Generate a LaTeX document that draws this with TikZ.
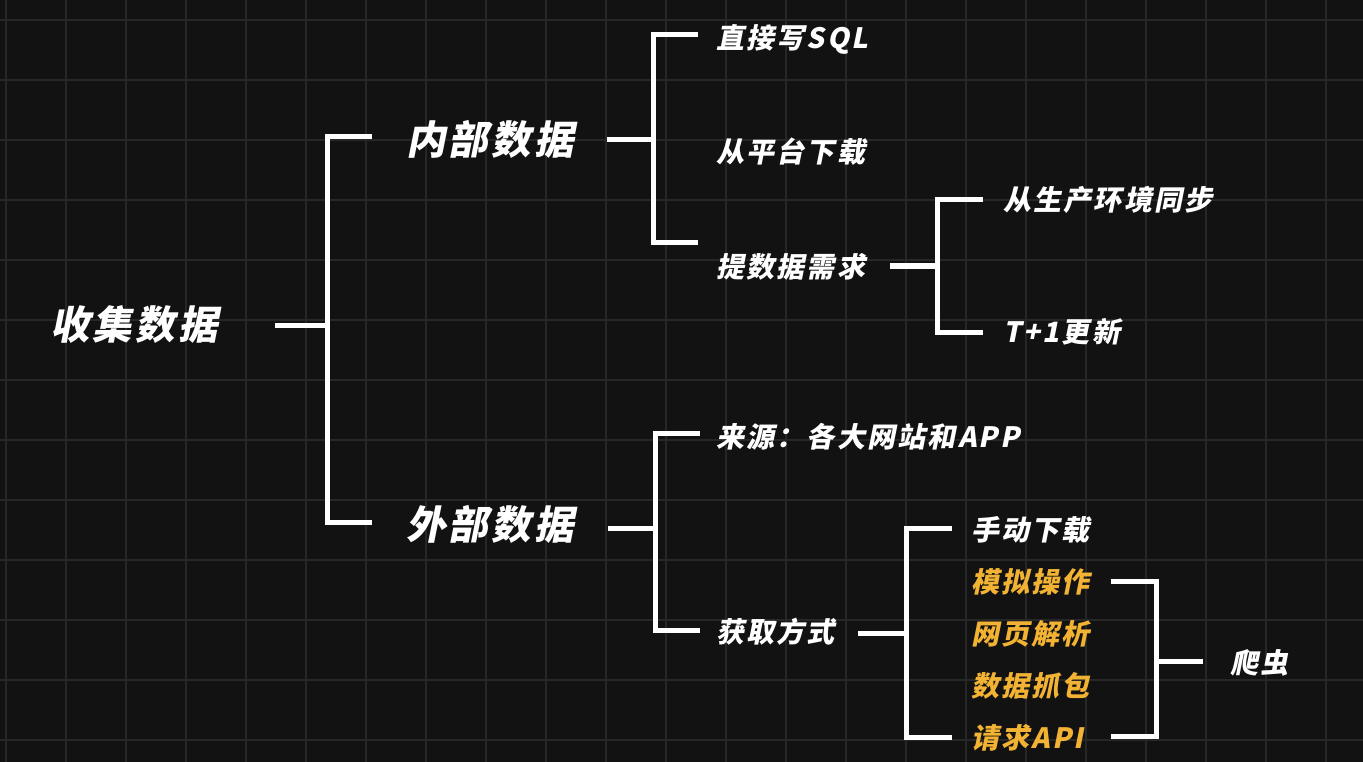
\documentclass[tikz,border=0pt]{standalone}
\usepackage{fontspec}
\newfontfamily\cjk{Noto Sans CJK SC}[UprightFont=* Black, FakeSlant=0.2, LetterSpace=8]
\definecolor{bgdark}{HTML}{121212}
\definecolor{gridgray}{HTML}{272727}
\definecolor{hiorange}{HTML}{F2B233}
\tikzset{
  big/.style={text=white, inner sep=0, anchor=west, text height=32pt, text depth=3pt,
    font=\cjk\fontsize{39.5}{42}\selectfont},
  small/.style={text=white, inner sep=0, anchor=west, text height=23pt, text depth=2pt,
    font=\cjk\fontsize{28}{30}\selectfont},
  br/.style={draw=white, line width=5pt, line join=miter}
}
\begin{document}
\begin{tikzpicture}[x=1pt, y=-1pt]
  \fill[bgdark] (0,0) rectangle (1363,762);
  \useasboundingbox (0,0) rectangle (1363,762);
  % grid
  \foreach \gx in {6,66,...,1326} \draw[gridgray, line width=2pt] (\gx,0) -- (\gx,762);
  \foreach \gy in {20,80,...,740} \draw[gridgray, line width=2pt] (0,\gy) -- (1363,\gy);

  % texts
  \node[big] (collect) at (50,325) {收集数据};
  \node[big] (inner) at (406,140) {内部数据};
  \node[big] (outer) at (406,525) {外部数据};
  \node[small] (sql) at (716,38) {直接写SQL};
  \node[small] (platform) at (716,152) {从平台下载};
  \node[small] (request) at (716,267) {提数据需求};
  \node[small] (prodsync) at (1003,200) {从生产环境同步};
  \node[small] (tplus) at (1003,332) {T+1更新};
  \node[small] (source) at (716,437) {来源：各大网站和APP};
  \node[small] (method) at (716,632) {获取方式};
  \node[small] (manual) at (971,530) {手动下载};
  \node[small, text=hiorange] (simulate) at (971,582) {模拟操作};
  \node[small, text=hiorange] (parse) at (971,634) {网页解析};
  \node[small, text=hiorange] (capture) at (971,686) {数据抓包};
  \node[small, text=hiorange] (api) at (971,738) {请求API};
  \node[small] (crawler) at (1230,663) {爬虫};

  % brackets
  \coordinate (j0) at (327,325);
  \coordinate (j1) at (653,140);
  \coordinate (j2) at (937,266);
  \coordinate (j3) at (655,528);
  \coordinate (j4) at (906,633);
  \coordinate (j5) at (1156,661);

  \draw[br] (j0) -- ++(-52,0);
  \draw[br] (j0) ++(45,-188) -| (j0) |- ++(45,197);
  \draw[br] (j1) -- ++(-46,0);
  \draw[br] (j1) ++(45,-105) -| (j1) |- ++(45,103);
  \draw[br] (j2) -- ++(-47,0);
  \draw[br] (j2) ++(46,-66) -| (j2) |- ++(46,66);
  \draw[br] (j3) -- ++(-47,0);
  \draw[br] (j3) ++(45,-95) -| (j3) |- ++(45,102);
  \draw[br] (j4) -- ++(-48,0);
  \draw[br] (j4) ++(46,-105) -| (j4) |- ++(46,104);
  \draw[br] (j5) -- ++(47,0);
  \draw[br] (j5) ++(-45,-80) -| (j5) |- ++(-45,75);
\end{tikzpicture}
\end{document}
